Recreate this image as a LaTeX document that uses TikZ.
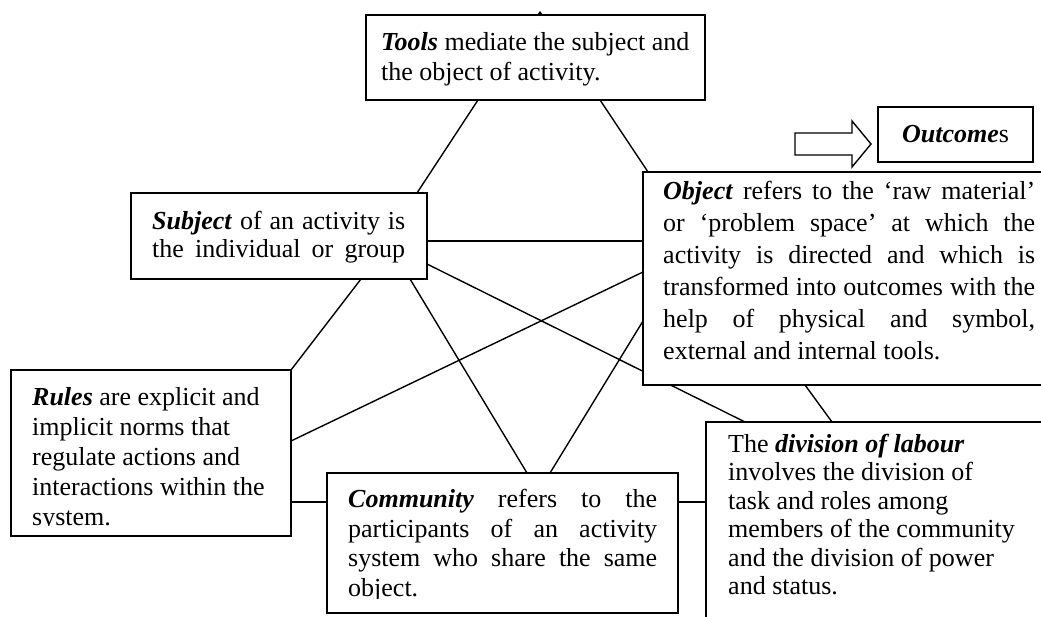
\documentclass[tikz,border=0pt]{standalone}
\usepackage{fontspec}
\setmainfont{Liberation Serif}
\pgfdeclarelayer{bg}
\pgfsetlayers{bg,main}

\begin{document}
\begin{tikzpicture}[x=1pt, y=-1pt,
    box/.style = {draw, fill=white, line width=1.8pt, inner sep=0pt,
                  outer sep=0pt, anchor=north west},
    txt/.style = {inner sep=0pt, anchor=north west, align=left,
                  font=\fontsize{26}{#1}\selectfont},
    link/.style = {line width=1.4pt}
                    ]
        \useasboundingbox (0,0) rectangle (1041,617);
        \clip (0,0) rectangle (1041,617);
        % boxes
        \node[box, minimum width=339pt, minimum height=85pt] (tools) at (366,15) {};
        \node[box, minimum width=296pt, minimum height=86pt] (subj) at (131,193) {};
        \node[box, minimum width=420pt, minimum height=213pt] (obj) at (643,172) {};
        \node[box, minimum width=280pt, minimum height=166pt] (rules) at (11,370) {};
        \node[box, minimum width=351pt, minimum height=140pt] (comm) at (327,473) {};
        \node[box, minimum width=360pt, minimum height=220pt] (dol) at (706,422) {};
        \node[box, minimum width=155pt, minimum height=55pt] (outc) at (878,107) {};
        % texts
        \node[txt=30] (toolstxt) at (381,32)
            {\textbf{\textit{Tools}} mediate the subject and\\ the object of activity.};
        \node[txt=28, text width=253pt, align=justify] (subjtxt) at (152,211)
            {\textbf{\textit{Subject}} of an activity is\linebreak
             the \hfill individual \hfill or \hfill group};
        \node[txt=32, text width=372pt, align=justify] (objtxt) at (663,181)
            {\textbf{\textit{Object}} refers to the `raw material'\linebreak
             or `problem space' at which the\linebreak
             activity is directed and which is\linebreak
             transformed into outcomes with the\linebreak
             help of physical and symbol,\linebreak
             external and internal tools.};
        \begin{scope}
            \clip (rules.north west) rectangle ([yshift=11pt]rules.south east);
            \node[txt=30] (rulestxt) at (32,387)
                {\textbf{\textit{Rules}} are explicit and\\ implicit norms that\\
                 regulate actions and\\ interactions within the\\ system.};
        \end{scope}
        \begin{scope}
            \clip (comm.north west) rectangle ([yshift=15pt]comm.south east);
            \node[txt=29.5, text width=309pt, align=justify] (commtxt) at (348,489)
                {\textbf{\textit{Community}} refers to the\linebreak
                 participants of an activity\linebreak
                 system who share the same\linebreak object.};
        \end{scope}
        \node[txt=28.4] (doltxt) at (728,434)
            {The \textbf{\textit{division of labour}}\\ involves the division of\\
             task and roles among\\ members of the community\\
             and the division of power\\ and status.};
        \node[font=\fontsize{26}{30}\selectfont] (outctxt) at (outc.center)
            {\textbf{\textit{Outcome}}s};
        % block arrow and tick
        \draw [line width=1.4pt] (795,133) -- (852,133) -- (852,121) -- (871,144)
            -- (852,167) -- (852,155) -- (795,155) -- cycle;
        \fill ([xshift=171pt]tools.north west) -- ++(3,-4) -- ++(3,4) -- cycle;
        % connectors
        \begin{pgfonlayer}{bg}
        \draw [link] ([xshift=112pt]tools.south west) -- ([xshift=286pt]subj.north west);
        \draw [link] ([xshift=234pt]tools.south west) -- ([xshift=5pt]obj.north west);
        \draw [link] ([yshift=-48pt]subj.north east) -- ([yshift=-69pt]obj.north west);
        \draw [link] ([yshift=-71pt]subj.north east) -- ([xshift=39pt]dol.north west);
        \draw [link] ([xshift=230pt]subj.south west) -- (rules.north east);
        \draw [link] ([xshift=279pt]subj.south west) -- ([xshift=200pt]comm.north west);
        \draw [link] ([yshift=-100pt]obj.north west) -- ([yshift=-71pt]rules.north east);
        \draw [link] ([yshift=-149pt]obj.north west) -- ([xshift=223pt]comm.north west);
        \draw [link] ([xshift=162pt]obj.south west) -- ([xshift=126pt]dol.north west);
        \draw [link] ([yshift=-132pt]rules.north east) -- ([yshift=-29pt]comm.north west);
        \draw [link] ([yshift=-29pt]comm.north east) -- ([yshift=-80pt]dol.north west);
        \end{pgfonlayer}
    \end{tikzpicture}
\end{document}
